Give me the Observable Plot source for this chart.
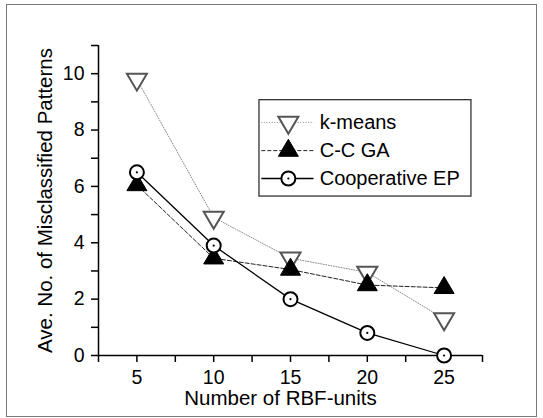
<!DOCTYPE html>
<html>
<head>
<meta charset="utf-8">
<script src="https://cdn.jsdelivr.net/npm/d3@7"></script>
<script src="https://cdn.jsdelivr.net/npm/@observablehq/plot@0.6"></script>
<style>
  html, body { margin: 0; padding: 0; background: #fff; overflow: hidden; }
  #wrap { position: relative; width: 543px; height: 418px; overflow: hidden; }
  #wrap svg { display: block; position: absolute; left: 0; top: 0; }
  #border { position: absolute; left: 6px; top: 4px; width: 531px; height: 413px; box-sizing: border-box;
            border: 1.5px solid #7a7a7a; pointer-events: none; z-index: 2; }
</style>
</head>
<body>
<div id="wrap"><div id="border"></div></div>
<script>
// ---- data ----
const units = [5, 10, 15, 20, 25];
const kmeans = [9.8, 4.9, 3.45, 2.95, 1.3];
const ccga = [6.05, 3.45, 3.05, 2.5, 2.4];
const coopEP = [6.5, 3.9, 2.0, 0.8, 0.0];
const seriesNames = ["k-means", "C-C GA", "Cooperative EP"];
const xTicks = [2.5, 5, 7.5, 10, 12.5, 15, 17.5, 20, 22.5, 25, 27.5];
const xTickLabels = [5, 10, 15, 20, 25];
const yTicks = [0, 1, 2, 3, 4, 5, 6, 7, 8, 9, 10, 11];
const yTickLabels = [0, 2, 4, 6, 8, 10];
const xTitle = "Number of RBF-units";
const yTitle = "Ave. No. of Misclassified Patterns";

const toRows = (vals, name) => units.map((u, i) => ({x: u, y: vals[i], s: name}));
const kRows = toRows(kmeans, seriesNames[0]);
const gRows = toRows(ccga, seriesNames[1]);
const cRows = toRows(coopEP, seriesNames[2]);

// custom symbols
const triDown = { draw(ctx, size) { const r = Math.sqrt(size / Math.PI);
  const w = r * 1.0, h = r * 1.7;
  ctx.moveTo(-w, -h / 3); ctx.lineTo(w, -h / 3); ctx.lineTo(0, 2 * h / 3); ctx.closePath(); } };
const triUp = { draw(ctx, size) { const r = Math.sqrt(size / Math.PI);
  const w = r * 1.0, h = r * 1.7;
  ctx.moveTo(0, -2 * h / 3); ctx.lineTo(w, h / 3); ctx.lineTo(-w, h / 3); ctx.closePath(); } };

// legend layout (data-space anchors)
const legendRows = [8.27, 7.27, 6.28];
const legBox = [{x1: 12.98, x2: 26.78, y1: 5.64, y2: 9.06}];
const legLineX = [13.1, 16.5];
const legMarkX = 14.86;
const legTextX = 16.9;

const styles = [
  {rows: kRows, stroke: "#8a8a8a", dash: "1,1.6", width: 1, symbol: triDown, r: 10, fill: "white", mstroke: "#555", mwidth: 2},
  {rows: gRows, stroke: "#222", dash: "4,2", width: 1, symbol: triUp, r: 10, fill: "black", mstroke: "black", mwidth: 1},
  {rows: cRows, stroke: "black", dash: null, width: 1.3, symbol: "circle", r: 7, fill: "white", mstroke: "black", mwidth: 2}
];

const marks = [];
// axis lines
marks.push(Plot.ruleY([0], {stroke: "black", strokeWidth: 1.5}));
marks.push(Plot.ruleX([2.5], {stroke: "black", strokeWidth: 1.5}));
marks.push(Plot.axisX({ticks: xTicks, tickSize: 7, tickPadding: 8, fontSize: 19.5,
  tickFormat: d => xTickLabels.includes(d) ? String(d) : "", strokeWidth: 1.5, label: null}));
marks.push(Plot.axisY({ticks: yTicks, tickSize: 7, tickPadding: 7, fontSize: 19.5,
  tickFormat: d => yTickLabels.includes(d) ? String(d) : "", strokeWidth: 1.5, label: null}));
marks.push(Plot.text([xTitle], {frameAnchor: "bottom", dy: 43, dx: -10, fontSize: 20.5, lineAnchor: "middle"}));
marks.push(Plot.text([yTitle], {frameAnchor: "left", dx: -53, rotate: -90, fontSize: 20.5,
  textAnchor: "middle", lineAnchor: "middle"}));

// series lines
styles.forEach(st => {
  marks.push(Plot.line(st.rows, {x: "x", y: "y", stroke: st.stroke, strokeWidth: st.width,
    strokeDasharray: st.dash || undefined}));
});
// markers
styles.forEach(st => {
  marks.push(Plot.dot(st.rows, {x: "x", y: "y", symbol: () => st.symbol, r: st.r, fill: st.fill,
    stroke: st.mstroke, strokeWidth: st.mwidth}));
});
marks.push(Plot.dot(cRows, {x: "x", y: "y", r: 1.1, fill: "black"}));

// legend
marks.push(Plot.rect(legBox, {x1: "x1", x2: "x2", y1: "y1", y2: "y2", fill: "white", stroke: "#333", strokeWidth: 1.3}));
styles.forEach((st, i) => {
  marks.push(Plot.link([{y: legendRows[i]}], {x1: legLineX[0], x2: legLineX[1], y1: "y", y2: "y",
    stroke: st.stroke, strokeWidth: st.width, strokeDasharray: st.dash || undefined}));
  marks.push(Plot.dot([{y: legendRows[i]}], {x: legMarkX, y: "y", symbol: () => st.symbol, r: st.r,
    fill: st.fill, stroke: st.mstroke, strokeWidth: st.mwidth}));
  marks.push(Plot.text([seriesNames[i]], {x: legTextX, y: legendRows[i], textAnchor: "start", fontSize: 20, lineAnchor: "middle"}));
});
marks.push(Plot.dot([{y: legendRows[2]}], {x: legMarkX, y: "y", r: 1.1, fill: "black"}));

const chart = Plot.plot({
  width: 543, height: 418,
  marginLeft: 98, marginRight: 61, marginTop: 45, marginBottom: 63,
  style: {fontFamily: "'Liberation Sans', Arial, sans-serif", color: "black", background: "white", overflow: "visible"},
  x: {domain: [2.5, 27.5], label: null},
  y: {domain: [0, 11], label: null},
  symbol: {type: "identity"},
  marks
});
document.getElementById("wrap").prepend(chart);
</script>
</body>
</html>
